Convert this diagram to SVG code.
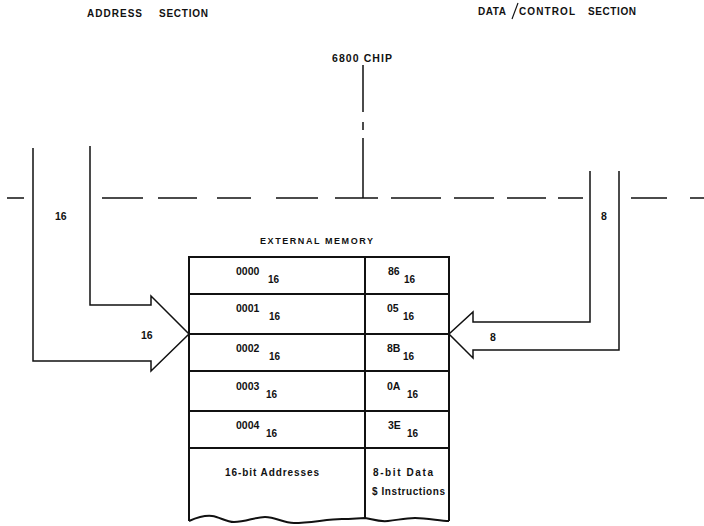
<svg xmlns="http://www.w3.org/2000/svg" width="704" height="526" viewBox="0 0 704 526">
<style>
text{font-family:"Liberation Sans",Arial,sans-serif;font-weight:bold;fill:#111}
.hd{font-size:10px}
.lb{font-size:10.5px}
.v{font-size:10.5px}
.s{font-size:10px}
.t{font-size:10px}
.ln{stroke:#111;stroke-width:1.5;fill:none}
.tb{stroke:#111;stroke-width:2;fill:none}
</style>
<rect width="704" height="526" fill="#fff"/>
<g id="section-labels">
<text class="hd" x="87" y="17" textLength="55" lengthAdjust="spacing">ADDRESS</text>
<text class="hd" x="159" y="17" textLength="49" lengthAdjust="spacing">SECTION</text>
<text class="hd" x="478" y="14.5" textLength="28" lengthAdjust="spacing">DATA</text>
<line x1="512" y1="19" x2="518" y2="3" stroke="#111" stroke-width="1.2"/>
<text class="hd" x="519" y="14.5" textLength="56" lengthAdjust="spacing">CONTROL</text>
<text class="hd" x="588" y="14.5" textLength="48" lengthAdjust="spacing">SECTION</text>
</g>
<g id="chip">
<text class="lb" x="332" y="62" textLength="60" lengthAdjust="spacing">6800 CHIP</text>
<g class="ln">
<path d="M7,198H24M102,198H143M158,198H197M217,198H251M276,198H318M335,198H378M391,198H441M454,198H494M507,198H546M558,198H583M631,198H667M690,198H704"/>
<path d="M363,65V112M363,122V130M363,138V198"/>
</g>
</g>
<g id="connectors" class="ln">
<path id="address-bus" d="M90,146V305H151V296L189,334L151,371V361H33V148"/>
<path id="data-bus" d="M590,171V322H473V312L449,334L473,358V350H619V171"/>
</g>
<g id="bus-labels">
<text class="lb" x="55" y="220">16</text>
<text class="lb" x="141" y="339">16</text>
<text class="lb" x="601" y="220">8</text>
<text class="lb" x="490" y="340.5">8</text>
</g>
<g id="external-memory">
<text x="260" y="244" font-size="9" textLength="113" lengthAdjust="spacing">EXTERNAL  MEMORY</text>
<g class="tb">
<path d="M189,521V257H449V521M365,257V519M189,294H449M189,334H449M189,371H449M189,411H449M189,448H449"/>
<path d="M189,521C196,518 204,515 212,516C220,517 226,522 234,522C246,522 255,517 265,517C276,517 283,523 294,523C310,523 328,519 342,519C352,519 359,518 365,518C372,519 378,522 388,521C398,520 405,518 415,518C428,518 440,521 449,521"/>
</g>
<g id="row-0000">
<text class="v" x="236" y="275">0000</text><text class="s" x="268" y="283">16</text>
<text class="v" x="388" y="275">86</text><text class="s" x="404" y="283">16</text>
</g>
<g id="row-0001">
<text class="v" x="236" y="312">0001</text><text class="s" x="269" y="320">16</text>
<text class="v" x="387" y="312">05</text><text class="s" x="403" y="320">16</text>
</g>
<g id="row-0002">
<text class="v" x="236" y="352">0002</text><text class="s" x="269" y="360">16</text>
<text class="v" x="387" y="352">8B</text><text class="s" x="403" y="360">16</text>
</g>
<g id="row-0003">
<text class="v" x="236" y="390">0003</text><text class="s" x="266" y="398">16</text>
<text class="v" x="387" y="390">0A</text><text class="s" x="407" y="398">16</text>
</g>
<g id="row-0004">
<text class="v" x="236" y="429">0004</text><text class="s" x="266" y="437">16</text>
<text class="v" x="388" y="429">3E</text><text class="s" x="407" y="437">16</text>
</g>
<g id="row-legend">
<text class="t" x="225" y="476" textLength="94" lengthAdjust="spacing">16-bit Addresses</text>
<text class="t" x="373" y="476" textLength="60" lengthAdjust="spacing">8-bit Data</text>
<text class="t" x="372" y="494.5" textLength="73" lengthAdjust="spacing">$ Instructions</text>
</g>
</g>
</svg>
